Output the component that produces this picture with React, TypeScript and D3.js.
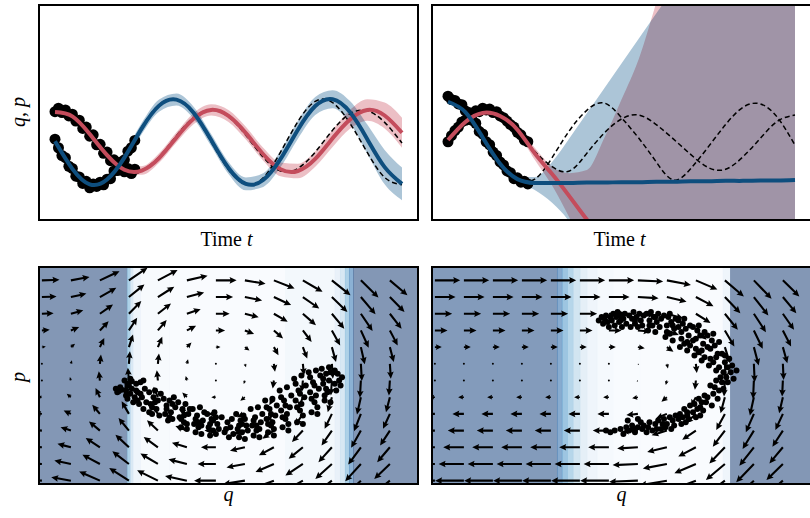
import React from 'react';
import * as d3 from 'd3';

// ---- time panels ----
const times = [0, 0.5, 1, 1.5, 2, 2.5, 3, 3.5, 4, 4.5, 5, 5.5, 6, 6.5, 7, 7.5, 8, 8.5, 9, 9.5, 10];
const obsTimes = [0, 0.1, 0.2, 0.3, 0.4, 0.5, 0.6, 0.7, 0.8, 0.9, 1, 1.1, 1.2, 1.3, 1.4, 1.5, 1.6, 1.7, 1.8, 1.9, 2, 2.1, 2.2, 2.3];

// left: model that extrapolates well
const leftQMean = [0.71, 0.61, 0.2, -0.29, -0.63, -0.65, -0.36, 0.12, 0.56, 0.76, 0.62, 0.22, -0.27, -0.62, -0.66, -0.38, 0.1, 0.54, 0.76, 0.63, 0.23];
const leftPMean = [0.03, -0.61, -0.97, -0.86, -0.35, 0.33, 0.86, 1.0, 0.69, 0.06, -0.59, -0.96, -0.87, -0.38, 0.3, 0.85, 1.01, 0.71, 0.08, -0.57, -0.96];
const leftQStd = [0.08, 0.08, 0.08, 0.08, 0.09, 0.1, 0.11, 0.12, 0.13, 0.13, 0.14, 0.15, 0.15, 0.16, 0.17, 0.18, 0.2, 0.22, 0.25, 0.3, 0.35];
const leftPStd = [0.1, 0.1, 0.1, 0.11, 0.12, 0.13, 0.14, 0.14, 0.14, 0.14, 0.14, 0.15, 0.16, 0.19, 0.21, 0.21, 0.21, 0.26, 0.34, 0.4, 0.38];
const leftQTrue = [0.72, 0.6, 0.18, -0.31, -0.64, -0.64, -0.33, 0.16, 0.59, 0.76, 0.6, 0.17, -0.34, -0.66, -0.6, -0.22, 0.29, 0.67, 0.74, 0.47, -0.01];
const leftPTrue = [0.03, -0.61, -0.97, -0.85, -0.33, 0.36, 0.88, 1.0, 0.66, 0.02, -0.63, -0.97, -0.82, -0.22, 0.49, 0.96, 0.93, 0.45, -0.23, -0.81, -0.98];
const leftQObs = [0.72, 0.8, 0.7, 0.76, 0.62, 0.66, 0.5, 0.52, 0.33, 0.36, 0.15, 0.18, -0.05, -0.04, -0.25, -0.22, -0.42, -0.4, -0.58, -0.52, -0.68, -0.6, -0.72, -0.62];
const leftPObs = [0.08, -0.12, -0.3, -0.35, -0.55, -0.6, -0.78, -0.8, -0.95, -0.9, -1.05, -0.96, -1.02, -0.92, -0.98, -0.85, -0.84, -0.66, -0.65, -0.45, -0.4, -0.2, -0.12, 0.05];

// right: model that fails to extrapolate
const rightQMean = [0.06, 0.48, 0.69, 0.62, 0.3, -0.25, -0.73, -1.25, -1.79, -2.33, -2.87];
const rightPMean = [0.95, 0.71, 0.12, -0.49, -0.85, -0.94, -0.94, -0.94, -0.93, -0.93, -0.92, -0.92, -0.91, -0.91, -0.9, -0.9, -0.89, -0.89, -0.88, -0.88, -0.87];
const rightQLow = [0.01, 0.43, 0.64, 0.57, 0.23, -0.4, -1.0, -1.75, -2.6, -3.5, -4.4, -5.3, -6.2, -7.1, -8.0, -8.9, -9.8, -10.7, -11.6, -12.5, -13.4];
const rightQHigh = [0.11, 0.53, 0.74, 0.67, 0.37, -0.12, -0.56, -0.71, -0.64, 0.1, 1.0, 1.95, 3.25, 4.6, 6.0, 7.5, 9.0, 10.5, 12.0, 13.5, 15.0];
const rightPLow = [0.9, 0.66, 0.07, -0.54, -0.92, -1.1, -1.4, -1.85, -2.6, -3.4, -4.2, -5.0, -5.8, -6.6, -7.4, -8.2, -9.0, -9.8, -10.6, -11.4, -12.2];
const rightPHigh = [1.0, 0.76, 0.17, -0.44, -0.78, -0.8, -0.45, 0.1, 0.68, 1.26, 1.84, 2.42, 3.0, 3.58, 4.16, 4.74, 5.32, 5.9, 6.48, 7.06, 7.64];
const rightQTrue = [0.05, 0.48, 0.7, 0.62, 0.28, -0.2, -0.56, -0.66, -0.25, 0.22, 0.55, 0.64, 0.42, 0.08, -0.28, -0.58, -0.62, -0.33, 0.1, 0.5, 0.64];
const rightPTrue = [0.98, 0.8, 0.3, -0.3, -0.8, -0.85, -0.35, 0.28, 0.75, 0.92, 0.58, 0.1, -0.45, -0.87, -0.6, -0.1, 0.42, 0.82, 0.9, 0.58, -0.06];
const rightQObs = [0.02, 0.16, 0.28, 0.36, 0.48, 0.52, 0.62, 0.66, 0.74, 0.72, 0.8, 0.76, 0.78, 0.7, 0.72, 0.62, 0.58, 0.5, 0.42, 0.36, 0.24, 0.18, 0.06, 0.02];
const rightPObs = [1.08, 1.0, 0.98, 0.9, 0.88, 0.74, 0.7, 0.52, 0.45, 0.26, 0.2, 0.02, -0.05, -0.22, -0.3, -0.45, -0.52, -0.66, -0.7, -0.84, -0.82, -0.92, -0.9, -0.96];

// ---- phase-space panels ----
const gridQ = [-6.4, -5.4, -4.4, -3.4, -2.4, -1.4, -0.4, 0.6, 1.6, 2.6, 3.6, 4.6, 5.6];
const gridP = [5.7, 4.7, 3.7, 2.7, 1.7, 0.7, -0.3, -1.3, -2.3, -3.3, -4.3, -5.3, -6.3];

// vector field: horizontal part per row, vertical part per column, column damping of the horizontal part
const leftRowU = [1.8, 1.5, 1.2, 0.8, 0.4, 0.1, -0.1, -0.4, -0.7, -1.0, -1.3, -1.6, -1.9];
const leftColV = [0.05, 0.3, 0.8, 1.1, 0.9, 0.4, 0, -0.3, -0.7, -1.0, -1.3, -1.5, -1.3];
const leftColScale = [0.85, 0.9, 0.95, 0.9, 0.95, 1, 1, 1, 1, 0.95, 0.9, 0.85, 0.85];
const rightRowU = [2.2, 1.8, 1.5, 1.1, 0.6, 0.1, -0.1, -0.5, -1.0, -1.4, -1.8, -2.2, -2.5];
const rightColV = [0, 0, 0, 0, 0, 0, 0, -0.1, -0.4, -0.8, -1.4, -1.6, -1.4];
const rightColScale = [1, 1, 1, 1, 1, 1, 1, 1, 0.95, 0.85, 0.75, 0.7, 0.65];

// uncertainty shading along q
const leftShadeEdges = [-6.5, -3.47, -3.36, -3.26, -3.0, -2.0, 2.0, 3.7, 3.88, 4.05, 4.19, 4.33, 6.6];
const leftShadeLevels = [1.0, 0.55, 0.3, 0.12, 0.04, 0.02, 0.08, 0.18, 0.32, 0.55, 0.8, 1.0];
const rightShadeEdges = [-6.5, -2.19, -2.02, -1.84, -1.64, -1.4, -1.16, -0.81, -0.26, 0.67, 3.53, 3.78, 6.6];
const rightShadeLevels = [0.97, 0.85, 0.65, 0.5, 0.35, 0.22, 0.12, 0.06, 0.03, 0.02, 0.12, 1.0];

const leftSamples: [number, number][] = [
  [-3.85, -0.8], [-3.75, -0.95], [-3.7, -0.7], [-3.8, -1.0], [-3.65, -0.85],
  [-3.55, -0.3], [-3.5, -0.9], [-3.45, -1.4], [-3.4, -0.6], [-3.35, -1.1], [-3.3, -0.35], [-3.25, -1.6], [-3.45, -0.5], [-3.3, -0.8], [-3.2, -1.3], [-3.5, -1.2], [-3.35, -0.2],
  [-3.15, -0.5], [-3.1, -1.0], [-3.05, -1.7], [-3.0, -0.4], [-2.95, -1.3], [-2.9, -2.0], [-3.1, -1.5], [-2.85, -0.8], [-3.0, -1.1], [-2.8, -1.6], [-3.15, -0.9], [-2.9, -0.3],
  [-2.7, -1.0], [-2.65, -1.7], [-2.6, -2.3], [-2.55, -1.3], [-2.5, -0.9], [-2.45, -2.0], [-2.4, -1.5], [-2.35, -2.4], [-2.6, -1.9], [-2.3, -1.1], [-2.5, -1.6], [-2.7, -2.2],
  [-2.2, -1.4], [-2.15, -2.3], [-2.1, -1.8], [-2.05, -2.7], [-2.0, -1.5], [-1.95, -2.2], [-1.9, -2.6], [-1.85, -1.3], [-2.1, -2.0], [-1.8, -1.9], [-2.0, -2.5], [-1.9, -1.7],
  [-1.7, -1.6], [-1.65, -2.5], [-1.6, -3.1], [-1.55, -2.0], [-1.5, -2.8], [-1.45, -1.7], [-1.4, -3.2], [-1.35, -2.3], [-1.6, -2.6], [-1.3, -2.0], [-1.5, -2.4], [-1.4, -2.9],
  [-1.2, -2.0], [-1.15, -2.9], [-1.1, -3.4], [-1.05, -2.4], [-1.0, -3.1], [-0.95, -1.9], [-0.9, -3.5], [-0.85, -2.7], [-1.1, -2.6], [-0.8, -2.2], [-1.0, -2.8], [-0.9, -3.0],
  [-0.7, -2.3], [-0.65, -3.1], [-0.6, -3.6], [-0.55, -2.6], [-0.5, -3.3], [-0.45, -2.2], [-0.4, -3.5], [-0.35, -2.9], [-0.6, -2.9], [-0.3, -3.2], [-0.5, -2.7], [-0.4, -2.5],
  [-0.2, -2.5], [-0.1, -3.4], [0.0, -2.8], [0.05, -3.7], [0.1, -3.1], [0.15, -2.6], [0.2, -3.5], [-0.05, -3.2],
  [0.3, -2.3], [0.35, -3.2], [0.4, -3.7], [0.45, -2.7], [0.5, -3.4], [0.55, -2.4], [0.6, -3.8], [0.65, -3.0], [0.4, -3.0], [0.7, -3.3], [0.5, -2.9], [0.6, -2.6],
  [0.8, -2.0], [0.85, -3.0], [0.9, -3.6], [0.95, -2.5], [1.0, -3.3], [1.05, -1.9], [1.1, -3.7], [1.15, -2.8], [0.9, -2.7], [1.2, -2.3], [1.0, -3.0], [1.1, -3.2],
  [1.3, -1.5], [1.35, -2.6], [1.4, -3.4], [1.45, -2.0], [1.5, -3.0], [1.55, -1.4], [1.6, -3.6], [1.65, -2.4], [1.4, -2.9], [1.7, -1.8], [1.5, -2.3], [1.6, -3.2], [1.35, -1.9], [1.55, -2.8],
  [1.8, -0.9], [1.85, -2.1], [1.9, -3.1], [1.95, -1.5], [2.0, -2.6], [2.05, -0.7], [2.1, -3.3], [2.15, -1.9], [1.9, -2.5], [2.2, -1.2], [2.0, -1.8], [2.1, -2.9], [1.85, -1.3], [2.05, -2.3],
  [2.3, -0.2], [2.35, -1.5], [2.4, -2.8], [2.45, -0.9], [2.5, -2.1], [2.55, 0.0], [2.6, -2.9], [2.65, -1.3], [2.4, -1.9], [2.7, -0.6], [2.5, -1.1], [2.6, -2.4], [2.35, -0.5], [2.55, -1.7],
  [2.8, 0.2], [2.85, -1.0], [2.9, -2.2], [2.95, -0.4], [3.0, -1.6], [3.05, 0.3], [3.1, -2.3], [3.15, -0.8], [2.9, -1.4], [3.2, 0.0], [3.0, -0.6], [3.1, -1.9], [2.85, -0.1], [3.05, -1.2],
  [3.25, 0.4], [3.3, -0.5], [3.35, -1.5], [3.4, 0.1], [3.45, -1.0], [3.5, 0.5], [3.55, -1.6], [3.3, -0.2], [3.4, -0.8], [3.5, -0.3], [3.35, -1.2], [3.55, 0.2],
  [3.65, 0.2], [3.7, -0.5], [3.75, -0.9], [3.8, 0.1], [3.85, -0.3], [3.9, -0.6], [3.7, 0.3], [3.95, -0.1],
];

const rightSamples: [number, number][] = [
  [-0.75, 3.3], [-0.65, 3.5], [-0.6, 3.1], [-0.55, 3.4], [-0.5, 3.6], [-0.45, 3.2], [-0.4, 2.9], [-0.35, 3.5],
  [-0.3, 3.3], [-0.25, 3.7], [-0.2, 3.0], [-0.15, 3.5], [-0.1, 3.8], [-0.05, 3.2], [0.0, 3.6], [0.05, 2.9], [0.1, 3.4], [0.15, 3.7], [0.2, 3.1], [0.0, 3.3],
  [0.3, 3.6], [0.35, 2.9], [0.4, 3.4], [0.45, 3.8], [0.5, 3.1], [0.55, 3.5], [0.6, 2.9], [0.65, 3.7], [0.7, 3.3], [0.75, 3.0], [0.8, 3.6], [0.5, 3.3],
  [0.9, 3.7], [0.95, 2.7], [1.0, 3.3], [1.05, 3.8], [1.1, 3.0], [1.15, 3.5], [1.2, 2.6], [1.25, 3.2], [1.3, 3.7], [1.35, 2.9], [1.4, 3.4], [1.0, 3.0], [1.2, 3.5],
  [1.5, 3.6], [1.55, 2.3], [1.6, 3.0], [1.65, 3.5], [1.7, 2.5], [1.75, 3.2], [1.8, 2.1], [1.85, 2.8], [1.9, 3.4], [1.6, 2.6], [1.8, 3.0], [1.7, 3.7],
  [2.0, 3.3], [2.05, 1.7], [2.1, 2.6], [2.15, 3.1], [2.2, 1.9], [2.25, 2.8], [2.3, 1.5], [2.35, 2.4], [2.4, 3.0], [2.1, 2.2], [2.3, 2.0], [2.2, 3.4], [2.4, 1.8], [2.0, 2.9],
  [2.5, 2.9], [2.55, 1.2], [2.6, 2.2], [2.65, 2.7], [2.7, 1.4], [2.75, 2.4], [2.8, 0.9], [2.85, 1.9], [2.9, 2.6], [2.6, 1.6], [2.8, 1.5], [2.7, 3.0], [2.9, 1.1], [2.5, 2.1],
  [3.0, 2.4], [3.05, 0.6], [3.1, 1.6], [3.15, 2.1], [3.2, 0.8], [3.25, 1.8], [3.3, 0.3], [3.35, 1.3], [3.4, 2.0], [3.1, 1.0], [3.3, 1.1], [3.2, 2.5], [3.4, 0.5], [3.0, 1.7],
  [3.5, 1.3], [3.55, 0.2], [3.6, 0.8], [3.65, -0.1], [3.7, 0.5], [3.75, 1.0], [3.8, 0.2], [3.85, 0.6], [3.9, -0.2], [4.0, 0.3], [3.6, 1.2], [3.7, -0.4],
  [3.5, -0.4], [3.4, -0.9], [3.3, -0.3], [3.2, -1.1], [3.35, -1.4], [3.1, -0.6], [3.0, -1.3], [3.45, -0.1], [3.25, -0.7], [2.95, -1.6], [3.15, -1.8], [3.55, -0.8],
  [2.9, -1.2], [2.85, -2.1], [2.8, -1.6], [2.75, -2.4], [2.7, -1.4], [2.65, -2.0], [2.6, -2.5], [2.55, -1.7], [2.5, -2.2], [2.75, -1.9],
  [2.4, -1.8], [2.35, -2.6], [2.3, -2.2], [2.25, -2.8], [2.2, -2.0], [2.15, -2.5], [2.1, -2.9], [2.05, -2.3], [2.0, -2.6], [2.3, -2.4],
  [1.9, -2.4], [1.85, -3.0], [1.8, -2.7], [1.75, -3.2], [1.7, -2.5], [1.6, -2.9], [1.55, -3.1], [1.5, -2.6], [1.45, -2.9], [1.4, -3.2],
  [1.3, -2.7], [1.25, -3.2], [1.2, -2.9], [1.1, -3.3], [1.0, -2.8], [0.95, -3.1], [0.9, -3.4], [0.8, -3.0], [0.75, -3.2], [0.7, -2.8],
  [0.6, -3.1], [0.5, -3.4], [0.4, -3.0], [0.3, -3.3], [0.2, -3.1], [0.1, -3.5], [0.0, -3.2], [0.45, -3.2],
  [-0.2, -3.3], [-0.35, -3.4], [-0.5, -3.3], [0.25, -2.7], [0.6, -2.6],
];

// ---- layout ----
const PANEL_W = 379;
const LEFT_X = 39;
const RIGHT_X = 432;
const TOP_Y0 = 5, TOP_Y1 = 220;
const BOT_Y0 = 267, BOT_Y1 = 484;
const RED = '#c44c5c';
const BLUE = '#0e4e7e';
const FONT = '"Liberation Serif", "DejaVu Serif", serif';
const ARROW_PX = 11.5;

type TimeProps = {
  id: string;
  left: number;
  qMean: number[];
  pMean: number[];
  qLow: number[];
  qHigh: number[];
  pLow: number[];
  pHigh: number[];
  qTrue: number[];
  pTrue: number[];
  qObs: number[];
  pObs: number[];
};

function TimePanel(props: TimeProps) {
  const { id, left } = props;
  const x = d3.scaleLinear().domain([-0.461, 10.461]).range([left, left + PANEL_W]);
  const y = d3.scaleLinear().domain([-1.8, 3.2]).range([TOP_Y1, TOP_Y0]);

  const line = (vals: number[]) =>
    d3.line<number>().x((_, i) => x(times[i])).y((v) => y(v)).curve(d3.curveNatural)(vals) || '';
  const band = (lo: number[], hi: number[]) =>
    d3.area<number>().x((t) => x(t)).y0((_, i) => y(lo[i])).y1((_, i) => y(hi[i])).curve(d3.curveMonotoneX)(times) || '';

  return (
    <g>
      <clipPath id={id}>
        <rect x={left} y={TOP_Y0} width={PANEL_W} height={TOP_Y1 - TOP_Y0} />
      </clipPath>
      <g clipPath={`url(#${id})`}>
        <path d={band(props.pLow, props.pHigh)} fill="#2f6f9a" fillOpacity={0.4} />
        <path d={band(props.qLow, props.qHigh)} fill="#d0606e" fillOpacity={0.4} style={{ mixBlendMode: 'multiply' }} />
        <path d={line(props.qTrue)} fill="none" stroke="#000" strokeWidth={1.5} strokeDasharray="5,3" />
        <path d={line(props.pTrue)} fill="none" stroke="#000" strokeWidth={1.5} strokeDasharray="5,3" />
        {obsTimes.map((t, i) => (
          <circle key={`q${i}`} cx={x(t)} cy={y(props.qObs[i])} r={5.5} fill="#000" />
        ))}
        {obsTimes.map((t, i) => (
          <circle key={`p${i}`} cx={x(t)} cy={y(props.pObs[i])} r={5.5} fill="#000" />
        ))}
        <path d={line(props.qMean)} fill="none" stroke={RED} strokeWidth={4} />
        <path d={line(props.pMean)} fill="none" stroke={BLUE} strokeWidth={4} />
      </g>
      <rect x={left} y={TOP_Y0} width={PANEL_W} height={TOP_Y1 - TOP_Y0} fill="none" stroke="#000" strokeWidth={2} />
      <text x={left + PANEL_W / 2 - 2} y={246} textAnchor="middle" fontFamily={FONT} fontSize={20}>
        Time <tspan fontStyle="italic">t</tspan>
      </text>
    </g>
  );
}

// quiver arrow outline along +x, matplotlib-like (shrinks when short)
function arrowPath(L: number) {
  const w = 2.1, hl = 7, hw = 6.6, ha = 6.2;
  const s = L < hl * 1.15 ? L / (hl * 1.15) : 1;
  const ww = w * s, l = hl * s, h = hw * s, a = ha * s;
  return `M0,${-ww / 2}L${L - a},${-ww / 2}L${L - l},${-h / 2}L${L},0L${L - l},${h / 2}L${L - a},${ww / 2}L0,${ww / 2}Z`;
}

type PhaseProps = {
  id: string;
  left: number;
  rowU: number[];
  colV: number[];
  colScale: number[];
  shadeEdges: number[];
  shadeLevels: number[];
  samples: [number, number][];
};

function PhasePanel(props: PhaseProps) {
  const { id, left } = props;
  const x = d3.scaleLinear().domain([-6.5, 6.57]).range([left, left + PANEL_W]);
  const y = d3.scaleLinear().domain([-6.5, 6.5]).range([BOT_Y1, BOT_Y0]);
  const shade = (v: number) => d3.interpolateBlues(v);

  const arrows: React.ReactNode[] = [];
  gridP.forEach((p, r) => {
    gridQ.forEach((q, c) => {
      const dx = props.rowU[r] * props.colScale[c] * ARROW_PX;
      const dy = -props.colV[c] * ARROW_PX;
      const L = Math.hypot(dx, dy);
      const px = x(q), py = y(p);
      if (L < 1.2) {
        arrows.push(<circle key={`${r}-${c}`} cx={px} cy={py} r={1} fill="#000" />);
      } else {
        const ang = (Math.atan2(dy, dx) * 180) / Math.PI;
        arrows.push(
          <path key={`${r}-${c}`} d={arrowPath(L)} transform={`translate(${px},${py}) rotate(${ang})`} fill="#000" />
        );
      }
    });
  });

  return (
    <g>
      <clipPath id={id}>
        <rect x={left} y={BOT_Y0} width={PANEL_W} height={BOT_Y1 - BOT_Y0} />
      </clipPath>
      <g clipPath={`url(#${id})`}>
        {props.shadeLevels.map((lv, i) => (
          <rect
            key={i}
            x={x(props.shadeEdges[i])}
            y={BOT_Y0}
            width={x(props.shadeEdges[i + 1]) - x(props.shadeEdges[i]) + 0.5}
            height={BOT_Y1 - BOT_Y0}
            fill={shade(lv)}
            fillOpacity={0.5}
          />
        ))}
        {arrows}
        {props.samples.map(([q, p], i) => (
          <circle key={i} cx={x(q)} cy={y(p)} r={3} fill="#000" />
        ))}
      </g>
      <rect x={left} y={BOT_Y0} width={PANEL_W} height={BOT_Y1 - BOT_Y0} fill="none" stroke="#000" strokeWidth={2} />
      <text x={left + PANEL_W / 2} y={501} textAnchor="middle" fontFamily={FONT} fontSize={20} fontStyle="italic">
        q
      </text>
    </g>
  );
}

export default function App() {
  const lo = (m: number[], s: number[]) => m.map((v, i) => v - s[i]);
  const hi = (m: number[], s: number[]) => m.map((v, i) => v + s[i]);
  return (
    <svg width={810} height={518} style={{ position: 'absolute', left: 0, top: 0, background: '#fff' }}>
      <rect x={0} y={0} width={810} height={518} fill="#fff" />
      <TimePanel
        id="clipTL"
        left={LEFT_X}
        qMean={leftQMean}
        pMean={leftPMean}
        qLow={lo(leftQMean, leftQStd)}
        qHigh={hi(leftQMean, leftQStd)}
        pLow={lo(leftPMean, leftPStd)}
        pHigh={hi(leftPMean, leftPStd)}
        qTrue={leftQTrue}
        pTrue={leftPTrue}
        qObs={leftQObs}
        pObs={leftPObs}
      />
      <TimePanel
        id="clipTR"
        left={RIGHT_X}
        qMean={rightQMean}
        pMean={rightPMean}
        qLow={rightQLow}
        qHigh={rightQHigh}
        pLow={rightPLow}
        pHigh={rightPHigh}
        qTrue={rightQTrue}
        pTrue={rightPTrue}
        qObs={rightQObs}
        pObs={rightPObs}
      />
      <PhasePanel
        id="clipBL"
        left={LEFT_X}
        rowU={leftRowU}
        colV={leftColV}
        colScale={leftColScale}
        shadeEdges={leftShadeEdges}
        shadeLevels={leftShadeLevels}
        samples={leftSamples}
      />
      <PhasePanel
        id="clipBR"
        left={RIGHT_X}
        rowU={rightRowU}
        colV={rightColV}
        colScale={rightColScale}
        shadeEdges={rightShadeEdges}
        shadeLevels={rightShadeLevels}
        samples={rightSamples}
      />
      <text transform="translate(25,112) rotate(-90)" textAnchor="middle" fontFamily={FONT} fontSize={20}>
        <tspan fontStyle="italic">q</tspan>, <tspan fontStyle="italic">p</tspan>
      </text>
      <text transform="translate(25,377) rotate(-90)" textAnchor="middle" fontFamily={FONT} fontSize={20} fontStyle="italic">
        p
      </text>
    </svg>
  );
}
